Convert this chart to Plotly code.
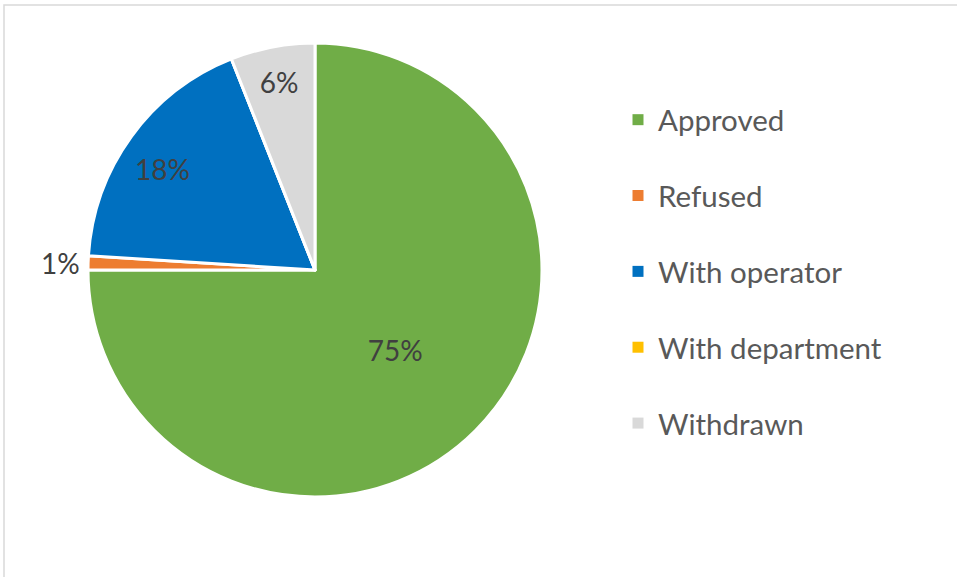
import math
import plotly.graph_objects as go

categories = ["Approved", "Refused", "With operator", "With department", "Withdrawn"]
values = [75, 1, 18, 0, 6]
colors = ["#70ad47", "#ed7d31", "#0070c0", "#ffc000", "#d9d9d9"]
text_positions = ["inside", "outside", "none", "none", "inside"]

W, H = 957, 577
cx, cy, r = 315, 270, 227

fig = go.Figure()
fig.add_trace(go.Pie(
    labels=categories, values=values, sort=False, direction="clockwise", rotation=0,
    marker=dict(colors=colors, line=dict(color="white", width=3)),
    textinfo="percent", texttemplate="%{percent:.0%}",
    textposition=text_positions, insidetextorientation="horizontal",
    textfont=dict(family="Lato", size=28, color="#404040"),
    insidetextfont=dict(family="Lato", size=28, color="#404040"),
    outsidetextfont=dict(family="Lato", size=28, color="#404040"),
    showlegend=False, hoverinfo="label+percent",
    domain=dict(x=[(cx - r) / W, (cx + r) / W], y=[1 - (cy + r) / H, 1 - (cy - r) / H]),
))

# "With operator" label placed further out along its slice bisector (as in the original)
total = sum(values)
start = sum(values[:2]) / total
frac = values[2] / total
mid = 2 * math.pi * (start + frac / 2)
lx = cx + 0.83 * r * math.sin(mid)
ly = cy - 0.83 * r * math.cos(mid)
annotations = [dict(x=lx / W, y=1 - ly / H, xref="paper", yref="paper",
                    xanchor="center", yanchor="middle", yshift=-10,
                    text=f"{round(frac * 100)}%", showarrow=False,
                    font=dict(family="Lato", size=28, color="#404040"))]

for name, col in zip(categories, colors):
    fig.add_trace(go.Scatter(
        x=[None], y=[None], mode="markers", name=name, legendgroup=name,
        marker=dict(symbol="square", size=11, color=col),
    ))

fig.update_layout(
    width=W, height=H, margin=dict(l=0, r=0, t=0, b=0),
    paper_bgcolor="white", plot_bgcolor="white",
    xaxis=dict(visible=False), yaxis=dict(visible=False),
    legend=dict(
        x=618 / W, xanchor="left", y=1 - 94 / H, yanchor="top",
        font=dict(family="Lato", size=29.5, color="#595959"),
        tracegroupgap=34.5, bgcolor="rgba(0,0,0,0)",
    ),
    annotations=annotations,
    shapes=[dict(type="rect", xref="paper", yref="paper",
                 x0=4 / W, x1=1.2, y0=-0.2, y1=1 - 5 / H,
                 line=dict(color="#d9d9d9", width=1.5), fillcolor="rgba(0,0,0,0)", layer="below")],
)

fig.write_html("out.html", config={"displayModeBar": False},
               post_script="document.body.style.margin='0';document.body.style.overflow='hidden';")
